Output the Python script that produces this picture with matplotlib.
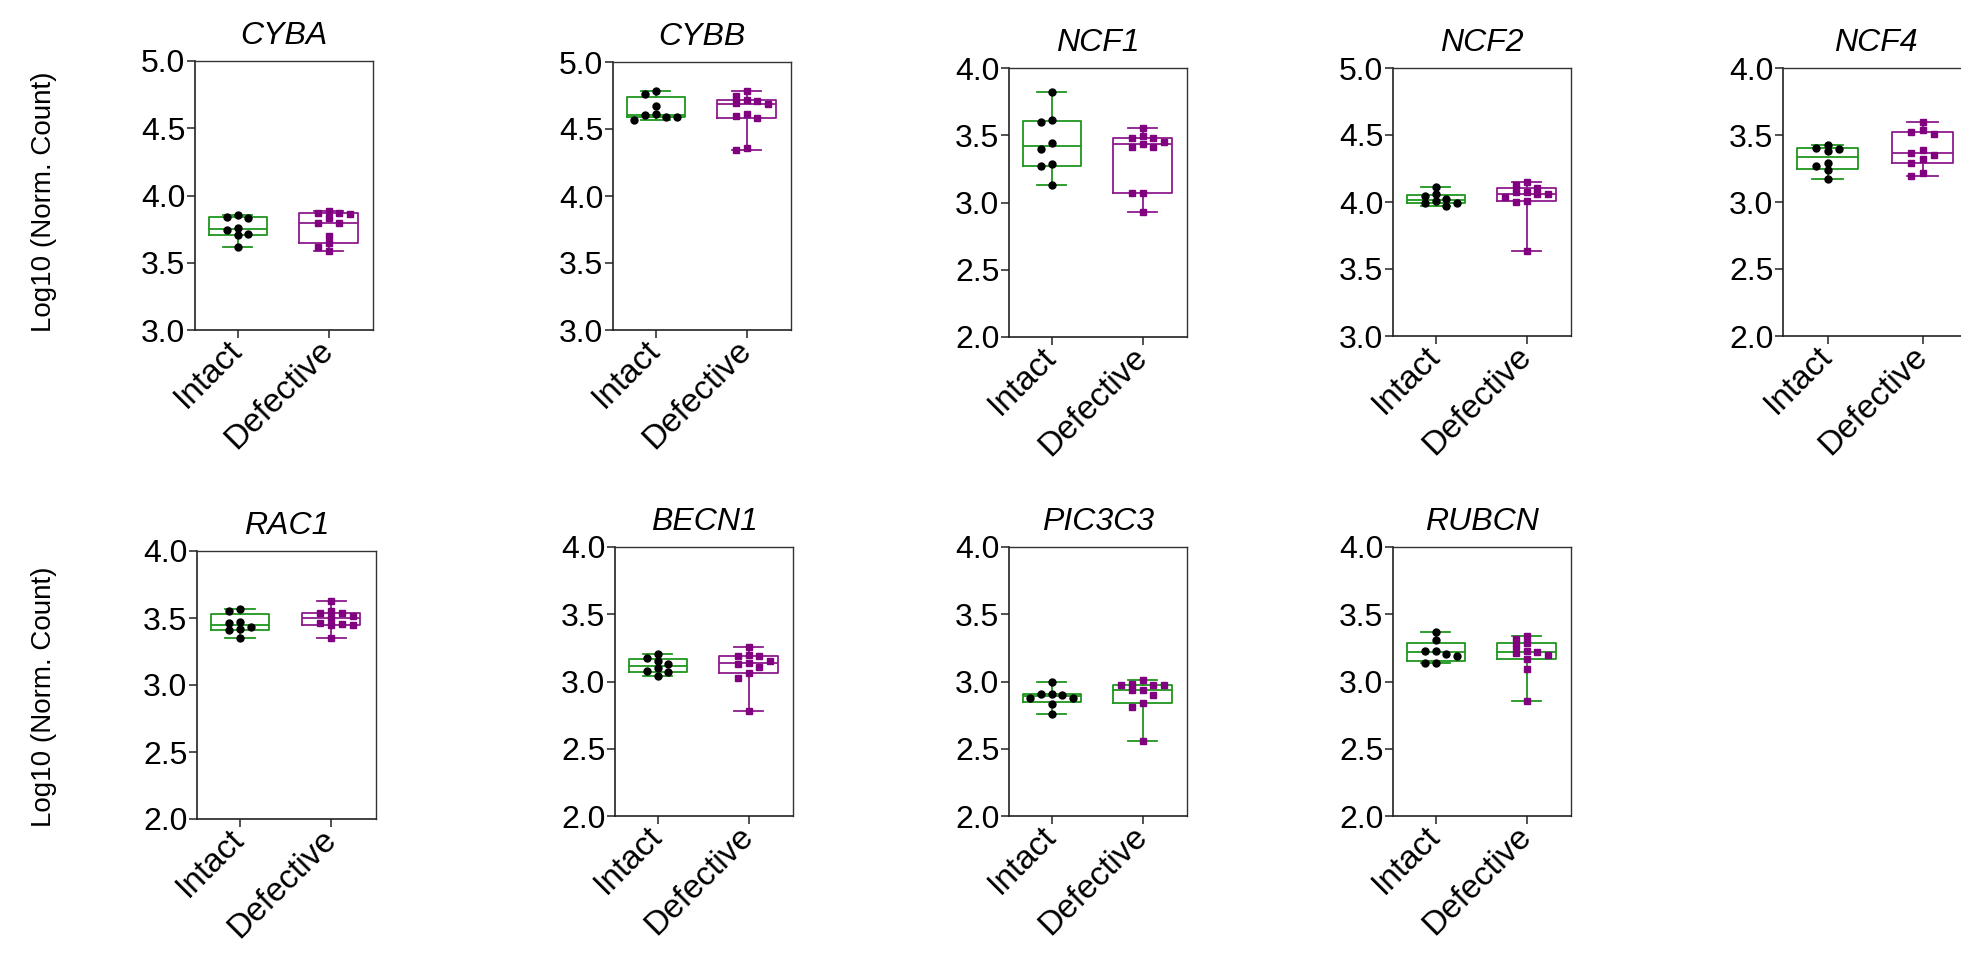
import numpy as np
import matplotlib.pyplot as plt

plt.rcParams['font.family'] = ['Liberation Sans', 'DejaVu Sans']

# ---- data (log10 normalized counts) ----
genes = ["CYBA", "CYBB", "NCF1", "NCF2", "NCF4", "RAC1", "BECN1", "PIC3C3", "RUBCN"]
group_labels = ["Intact", "Defective"]
y_limits = [(3, 5), (3, 5), (2, 4), (3, 5), (2, 4), (2, 4), (2, 4), (2, 4), (2, 4)]

cyba_intact = [3.855, 3.843, 3.830, 3.756, 3.744, 3.711, 3.706, 3.617]
cyba_defective = [3.887, 3.872, 3.867, 3.860, 3.830, 3.798, 3.798, 3.699, 3.650, 3.615, 3.590]
cybb_intact = [4.784, 4.759, 4.670, 4.610, 4.602, 4.593, 4.590, 4.565]
cybb_defective = [4.784, 4.744, 4.714, 4.709, 4.694, 4.689, 4.615, 4.598, 4.585, 4.361, 4.347]
ncf1_intact = [3.819, 3.612, 3.595, 3.441, 3.396, 3.284, 3.272, 3.130]
ncf1_defective = [3.553, 3.491, 3.483, 3.483, 3.453, 3.434, 3.416, 3.416, 3.073, 3.073, 2.932]
ncf2_intact = [4.113, 4.058, 4.046, 4.021, 4.006, 3.991, 3.989, 3.969]
ncf2_defective = [4.150, 4.125, 4.108, 4.076, 4.076, 4.058, 4.058, 4.039, 4.009, 4.001, 3.636]
ncf4_intact = [3.429, 3.404, 3.394, 3.379, 3.294, 3.270, 3.242, 3.168]
ncf4_defective = [3.598, 3.535, 3.523, 3.511, 3.386, 3.369, 3.354, 3.324, 3.294, 3.217, 3.193]
rac1_intact = [3.570, 3.550, 3.471, 3.463, 3.434, 3.419, 3.409, 3.349]
rac1_defective = [3.627, 3.553, 3.538, 3.538, 3.516, 3.500, 3.463, 3.458, 3.446, 3.446, 3.349]
becn1_intact = [3.203, 3.173, 3.153, 3.128, 3.103, 3.081, 3.068, 3.043]
becn1_defective = [3.260, 3.198, 3.190, 3.190, 3.153, 3.135, 3.128, 3.111, 3.065, 3.024, 2.780]
pic3c3_intact = [2.999, 2.909, 2.909, 2.897, 2.880, 2.877, 2.835, 2.760]
pic3c3_defective = [3.009, 2.984, 2.971, 2.971, 2.971, 2.939, 2.934, 2.902, 2.840, 2.807, 2.554]
rubcn_intact = [3.366, 3.307, 3.225, 3.225, 3.207, 3.188, 3.138, 3.138]
rubcn_defective = [3.337, 3.317, 3.287, 3.262, 3.225, 3.220, 3.212, 3.195, 3.170, 3.093, 2.857]

intact_values = [cyba_intact, cybb_intact, ncf1_intact, ncf2_intact, ncf4_intact,
                 rac1_intact, becn1_intact, pic3c3_intact, rubcn_intact]
defective_values = [cyba_defective, cybb_defective, ncf1_defective, ncf2_defective, ncf4_defective,
                    rac1_defective, becn1_defective, pic3c3_defective, rubcn_defective]

GREEN = "#1f961f"
PURPLE = "#8c1a8c"
defective_box_colors = [PURPLE] * 7 + [GREEN] * 2

# axes placement in pixels: left, top, bottom, width
W, H = 1961, 957
panel_px = [(195, 61, 330, 178), (613, 62, 330, 178), (1009, 68, 337, 178),
            (1393, 68, 336, 178), (1783, 68, 336, 186),
            (197, 551, 819, 179), (615, 547, 816, 178), (1009, 547, 816, 178),
            (1393, 547, 816, 178)]


def swarm_offsets(vals, step=0.118, thr=0.045):
    # simple column swarm: put each point in the nearest free column
    placed = []
    offs = []
    for v in vals:
        for k in [0, -1, 1, 2, -2, 3, -3]:
            if all(not (pk == k and abs(pv - v) < thr) for pv, pk in placed):
                break
        placed.append((v, k))
        offs.append(k * step)
    return np.array(offs)


def box_stats(vals):
    v = np.asarray(vals)
    q1, med, q3 = np.percentile(v, [25, 50, 75], method="weibull")
    return dict(med=med, q1=q1, q3=q3, whislo=v.min(), whishi=v.max(), fliers=[])


fig = plt.figure(figsize=(W / 100, H / 100), dpi=100)

for i, gene in enumerate(genes):
    left, top, bottom, width = panel_px[i]
    ax = fig.add_axes([left / W, 1 - bottom / H, width / W, (bottom - top) / H])

    groups = [intact_values[i], defective_values[i]]
    box_colors = [GREEN, defective_box_colors[i]]
    for pos, (vals, col) in enumerate(zip(groups, box_colors)):
        lp = dict(color=col, linewidth=1.3)
        ax.bxp([box_stats(vals)], positions=[pos], widths=0.64, capwidths=0.32,
               showfliers=False, manage_ticks=False,
               boxprops=lp, whiskerprops=lp, capprops=lp, medianprops=lp)

    xi = swarm_offsets(intact_values[i])
    ax.plot(0 + xi, intact_values[i], linestyle="none", marker="o", markersize=5,
            color="black", zorder=5)
    xd = swarm_offsets(defective_values[i])
    ax.plot(1 + xd, defective_values[i], linestyle="none", marker="s", markersize=5,
            color="#800080", zorder=5)

    lo, hi = y_limits[i]
    ax.set_ylim(lo, hi)
    ax.set_xlim(-0.47, 1.49)
    ax.set_yticks(np.arange(lo, hi + 0.01, 0.5))
    ax.set_yticklabels([f"{t:.1f}" for t in np.arange(lo, hi + 0.01, 0.5)])
    ax.set_xticks([0, 1])
    ax.set_xticklabels(group_labels, rotation=45, ha="right", va="center",
                       rotation_mode="anchor")
    ax.tick_params(axis="both", length=6, width=1.1, color="#222222")
    ax.tick_params(axis="y", labelsize=23, pad=1)
    ax.tick_params(axis="x", labelsize=24, pad=5)
    for side in ["left", "bottom"]:
        ax.spines[side].set_color("#222222")
        ax.spines[side].set_linewidth(1.2)
    for side in ["top", "right"]:
        ax.spines[side].set_color("#333333")
        ax.spines[side].set_linewidth(1.0)
    ax.set_title(gene, fontstyle="italic", fontsize=23, pad=12)

fig.text(44 / W, 1 - 202 / H, "Log10 (Norm. Count)", rotation=90, ha="center",
         va="center", fontsize=20)
fig.text(44 / W, 1 - 697 / H, "Log10 (Norm. Count)", rotation=90, ha="center",
         va="center", fontsize=20)

fig.savefig("out.png", dpi=100)
